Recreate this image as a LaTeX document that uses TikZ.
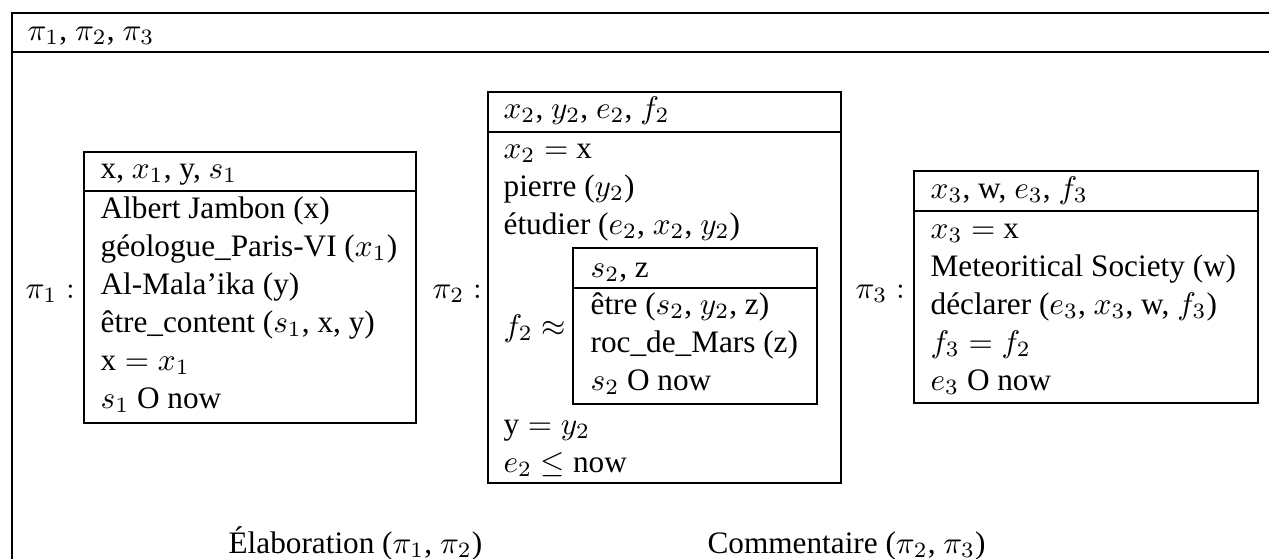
\documentclass[tikz,border=0pt]{standalone}
\usepackage[no-math]{fontspec}
\setmainfont{Liberation Serif}

\begin{document}
\begin{tikzpicture}[
  x=0.32pt, y=-0.32pt,
  drs/.style={draw, line width=0.85pt},
  cond/.style={anchor=base west, inner sep=0pt}
]
\useasboundingbox (0,0) rectangle (1269,558);
\clip (0,0) rectangle (1269,558);
% outer box, cut off at the right and bottom
\draw[drs] (1290,13) -- (12,13) -- (12,580);
\draw[drs] (12,52) -- (1290,52);
\node[cond] (top) at (27,40) {$\pi_1$, $\pi_2$, $\pi_3$};
% pi_1
\node[cond] (p1) at (25,298) {$\pi_1 :$};
\draw[drs] (84,152) rectangle (416,423);
\draw[drs] (84,191) -- (416,191);
\node[cond] (u1) at (100,178) {x, $x_1$, y, $s_1$};
\foreach \t [count=\i] in {Albert Jambon (x), {géologue\_Paris-VI ($x_1$)}, Al-Mala'ika (y),
    {être\_content ($s_1$, x, y)}, x${}=x_1$, $s_1$ O now}{
  \node[cond] (c1\i) at (100,180+38*\i) {\t};
}
% pi_2
\node[cond] (p2) at (432,298) {$\pi_2 :$};
\draw[drs] (488,92) rectangle (841,483);
\draw[drs] (488,132) -- (841,132);
\node[cond] (u2) at (503,118) {$x_2$, $y_2$, $e_2$, $f_2$};
\foreach \y/\t [count=\i] in {158/{$x_2 =$ x}, 196/{pierre ($y_2$)}, 234/{étudier ($e_2$, $x_2$, $y_2$)},
    434/{y${}=y_2$}, 472/{$e_2 \leq$ now}}{
  \node[cond] (c2\i) at (503,\y) {\t};
}
\node[cond] (f2) at (503,336) {$f_2 \approx$};
\draw[drs] (573,248) rectangle (817,404);
\draw[drs] (573,288) -- (817,288);
\node[cond] (u4) at (590,277) {$s_2$, z};
\foreach \t [count=\i] in {{être ($s_2$, $y_2$, z)}, roc\_de\_Mars (z), $s_2$ O now}{
  \node[cond] (c4\i) at (590,276+38*\i) {\t};
}
% pi_3
\node[cond] (p3) at (855,298) {$\pi_3 :$};
\draw[drs] (914,171) rectangle (1258,403);
\draw[drs] (914,211) -- (1258,211);
\node[cond] (u3) at (930,198) {$x_3$, w, $e_3$, $f_3$};
\foreach \t [count=\i] in {$x_3 =$ x, Meteoritical Society (w), {déclarer ($e_3$, $x_3$, w, $f_3$)},
    $f_3 = f_2$, $e_3$ O now}{
  \node[cond] (c3\i) at (930,200+38*\i) {\t};
}
% relations
\node[cond] (elab) at (228,553) {Élaboration ($\pi_1$, $\pi_2$)};
\node[cond] (comm) at (707,553) {Commentaire ($\pi_2$, $\pi_3$)};
\end{tikzpicture}
\end{document}
